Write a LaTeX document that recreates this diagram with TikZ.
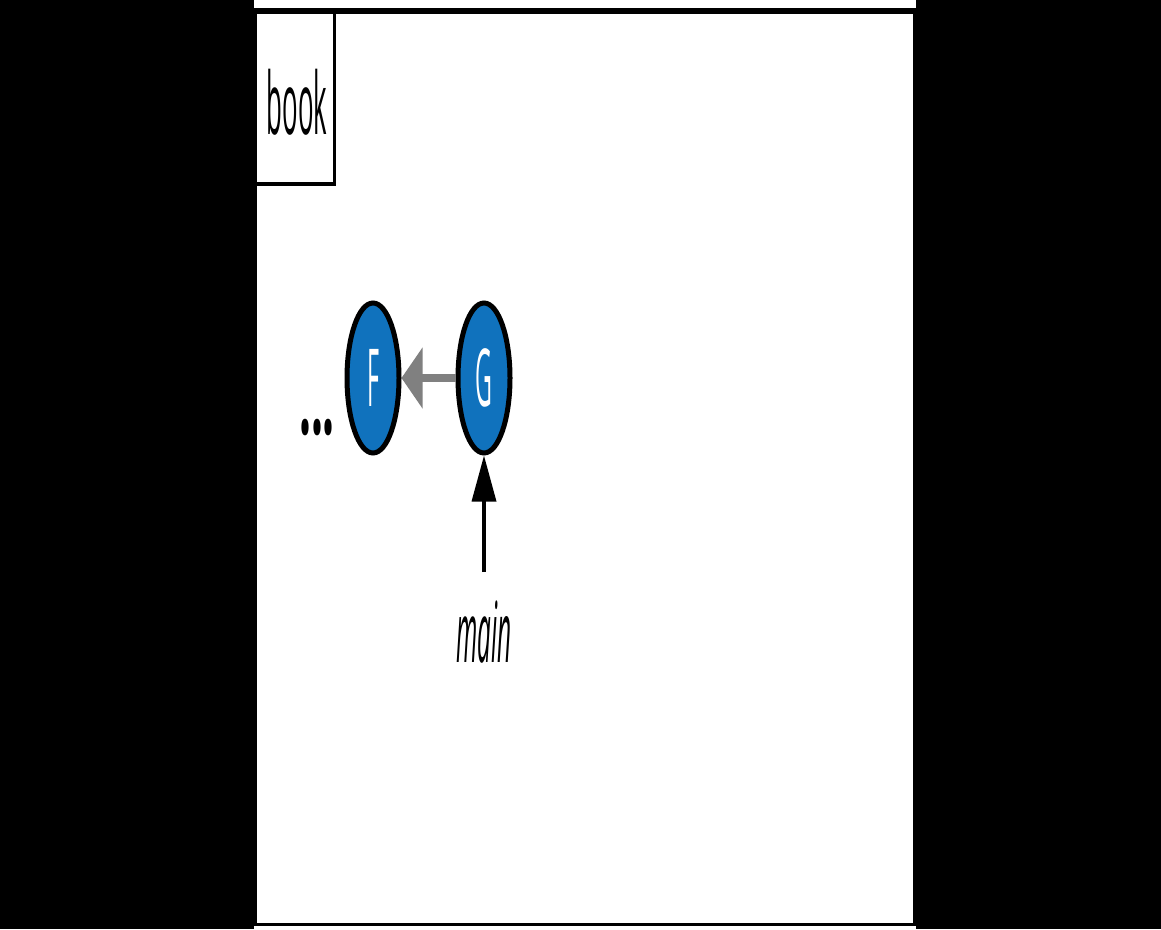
\documentclass[tikz,border=0pt]{standalone}
\usepackage{fontspec}
\setmainfont{Open Sans}
\usetikzlibrary{shapes.geometric,arrows.meta}
\definecolor{nodeblue}{RGB}{16,114,189}
\definecolor{arrowgray}{RGB}{128,128,128}
\tikzset{
  commit/.style={ellipse, draw=black, line width=5pt, fill=nodeblue, inner sep=0pt,
    minimum width=52pt, minimum height=150pt, text=white},
  bigtxt/.style={inner sep=0pt, font=\fontsize{78}{78}\selectfont},
}
\newcommand{\sq}[1]{\scalebox{0.29}[1]{#1}}
\begin{document}
\begin{tikzpicture}[x=1pt,y=-1pt]
\useasboundingbox (0,0) rectangle (1161,929);
\fill[black] (0,0) rectangle (1161,929);
\fill[white] (254,0) rectangle (916,929);
% panel frame
\draw[line width=6pt] (254,11) -- (917,11);
\draw[line width=3pt] (914,8) -- (914,926);
\draw[line width=3pt] (254,924) -- (916,924);
\draw[line width=3pt] (255.5,8) -- (255.5,926);
% book box
\draw[line width=3pt] (334,10) -- (334,186);
\draw[line width=4pt] (254,184) -- (336,184);
\node[bigtxt, font=\fontsize{86}{86}\selectfont] (book) at (297,102) {\scalebox{0.3}[1]{book}};
% commits
\node[commit] (F) at (373,378) {\fontsize{80}{80}\selectfont\sq{F}};
\node[commit] (G) at (484,378) {\fontsize{80}{80}\selectfont\sq{G}};
\node[bigtxt, font=\fontsize{100}{100}\selectfont\bfseries] (dots) at (317,428) {\scalebox{0.42}[1]{...}};
\draw[arrowgray, line width=8pt, -{Triangle[length=21pt,width=60pt]}] (G.west) -- (F.east);
% branch label
\node[bigtxt, font=\fontsize{84}{84}\selectfont\itshape] (main) at (484,632) {\sq{main}};
\coordinate (mainend) at (484,572);
\draw[black, line width=3.5pt, -{Triangle[length=46pt,width=24pt]}] (mainend) -- (G.south);
\end{tikzpicture}
\end{document}
